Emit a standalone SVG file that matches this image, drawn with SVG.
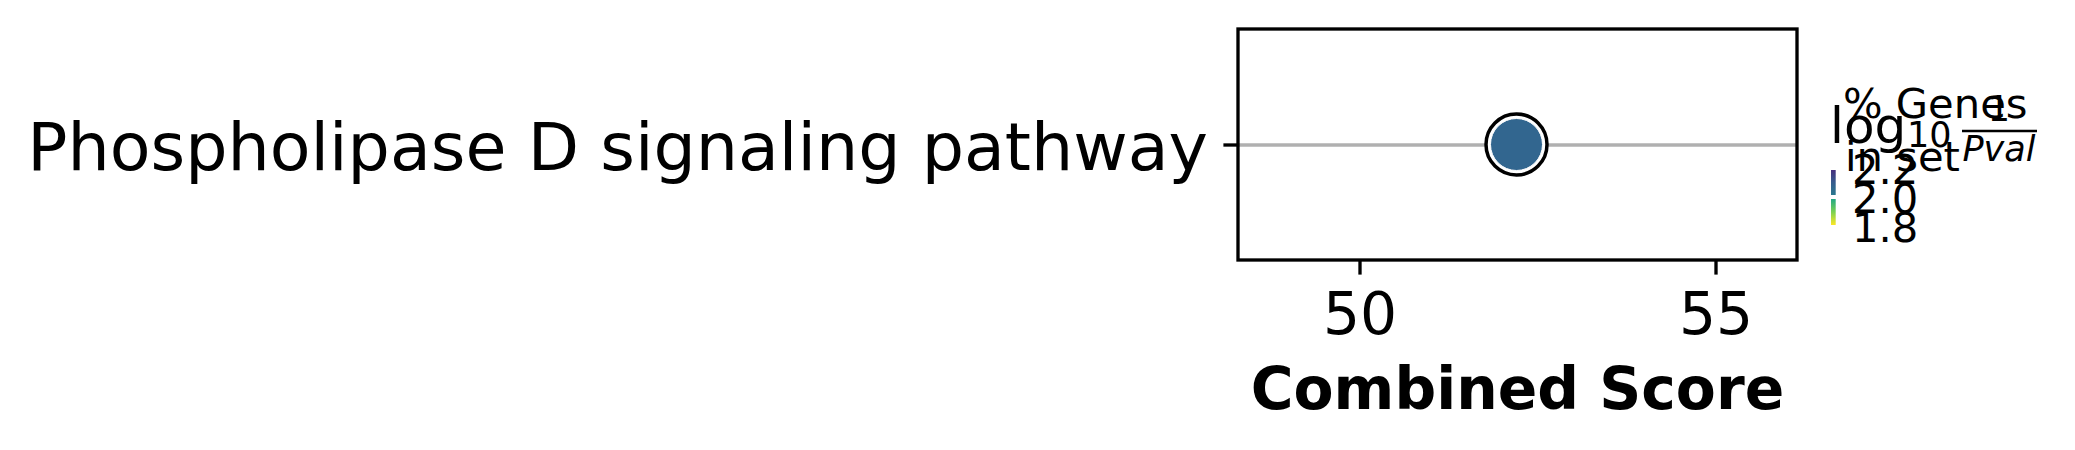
<svg xmlns="http://www.w3.org/2000/svg" width="2075" height="450" viewBox="0 0 2075 450">
<style>
text { font-family: "DejaVu Sans", "Liberation Sans", sans-serif; fill: #000; }
.ylab { font-size: 66.67px; }
.tick { font-size: 58.33px; }
.xlab { font-size: 58.33px; font-weight: bold; }
.leg { font-size: 41.67px; }
.math { font-size: 50px; }
.mathsm { font-size: 35px; }
.it { font-style: italic; }
.axis { stroke: #000; stroke-width: 3.33; fill: none; }
.grid { stroke: #b0b0b0; stroke-width: 3.3; }
</style>
<defs>
<linearGradient id="cb1" x1="0" y1="0" x2="0" y2="1">
<stop offset="0" stop-color="#46307e"/>
<stop offset="0.5" stop-color="#365c8d"/>
<stop offset="1" stop-color="#2a788e"/>
</linearGradient>
<linearGradient id="cb2" x1="0" y1="0" x2="0" y2="1">
<stop offset="0" stop-color="#22a884"/>
<stop offset="0.5" stop-color="#7ad151"/>
<stop offset="1" stop-color="#fde725"/>
</linearGradient>
</defs>
<rect width="2075" height="450" fill="#fff"/>
<g id="connectors">
<line class="grid" x1="1238" y1="145" x2="1797" y2="145"/>
</g>
<g id="axes">
<rect class="axis" x="1238" y="29" width="559" height="231"/>
<line class="axis" x1="1223.4" y1="145" x2="1238" y2="145"/>
<line class="axis" x1="1360" y1="260" x2="1360" y2="274.6"/>
<line class="axis" x1="1716" y1="260" x2="1716" y2="274.6"/>
<text class="ylab" x="1208" y="170" text-anchor="end">Phospholipase D signaling pathway</text>
<text class="tick" x="1360" y="334" text-anchor="middle">50</text>
<text class="tick" x="1716" y="334" text-anchor="middle">55</text>
<text class="xlab" x="1517.5" y="409" text-anchor="middle">Combined Score</text>
</g>
<g id="point">
<circle cx="1516.5" cy="144.5" r="30.5" fill="#fff" stroke="#000" stroke-width="3.5"/>
<circle cx="1516.5" cy="144.5" r="26" fill="#32668f" stroke="#fff" stroke-width="1"/>
</g>
<g id="legend">
<text class="leg" x="1843" y="118">% Genes</text>
<text class="leg" x="1845" y="171">in set</text>
<text class="math" x="1830" y="143">log</text>
<text class="mathsm" x="1907" y="147">10</text>
<line x1="1962" y1="131" x2="2037" y2="131" stroke="#000" stroke-width="2.6"/>
<text class="mathsm" x="1999" y="121" text-anchor="middle">1</text>
<text class="mathsm it" x="1999" y="161" text-anchor="middle">Pval</text>
<rect x="1831" y="170" width="4.7" height="25" fill="url(#cb1)"/>
<rect x="1831" y="199" width="4.7" height="26" fill="url(#cb2)"/>
<text class="leg" x="1852" y="184">2.2</text>
<text class="leg" x="1852" y="213">2.0</text>
<text class="leg" x="1852" y="242">1.8</text>
</g>
</svg>
